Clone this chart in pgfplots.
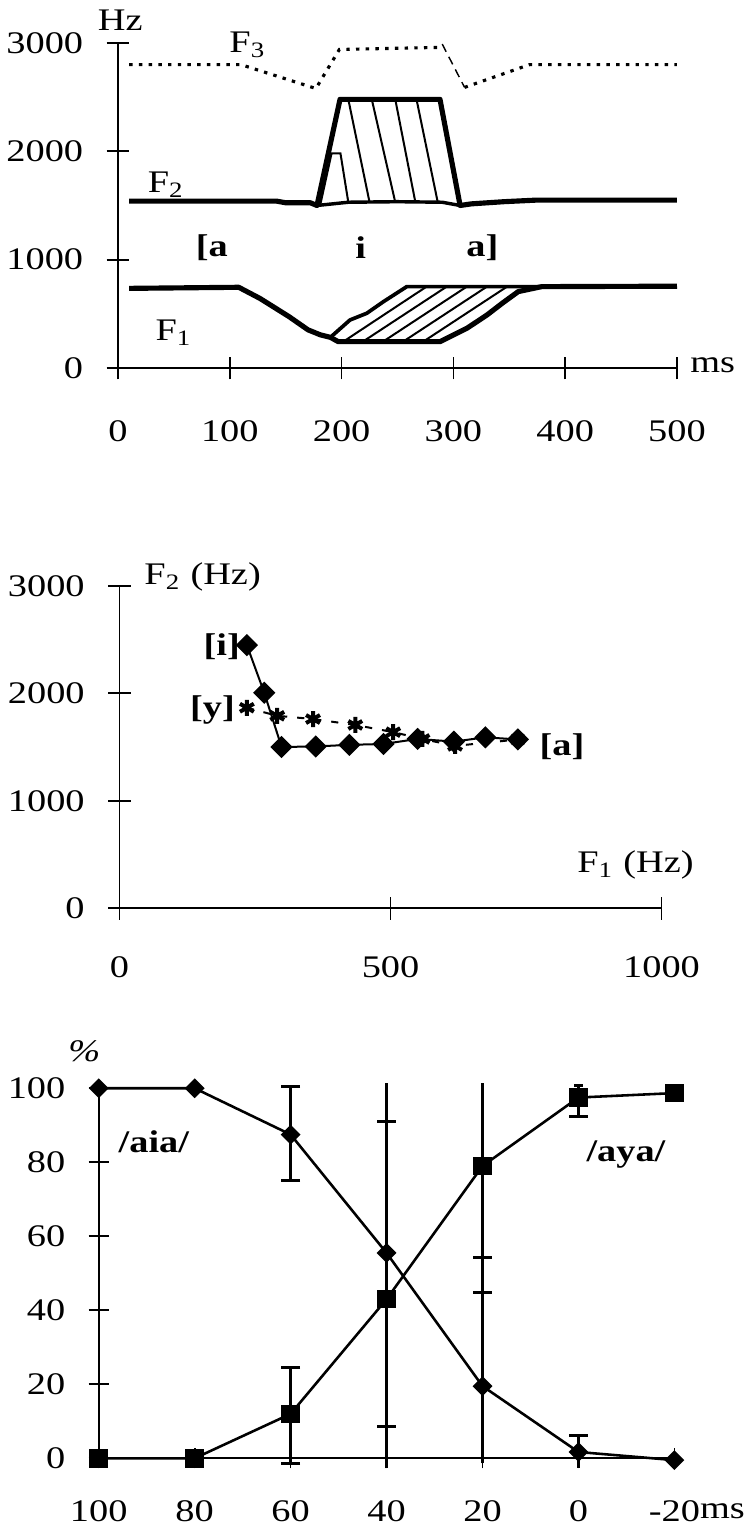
\documentclass[border=0pt]{standalone}
\usepackage{fontspec}
\setmainfont{Liberation Serif}
\usepackage{graphicx}
\usepackage{pgfplots}
\pgfplotsset{compat=1.18}

% the scan is stretched sideways, so the text is too
\newcommand{\sx}[1]{\scalebox{1.22}[1]{#1}}

\pgfplotsset{
  panel/.style={
    scale only axis,
    axis lines=left,
    axis line style={-, line width=0.6pt},
    tick align=center,
    major tick length=8pt,
    tick style={line width=0.6pt, black},
    tick label style={inner sep=0pt},
    xticklabel style={anchor=center},
    yticklabel style={anchor=east, xshift=-8pt},
    clip=false,
    scaled ticks=false,
  },
}

\begin{document}
\fontsize{11}{13}\selectfont
\begin{tikzpicture}
\useasboundingbox (0,0) rectangle (262.15pt,538.65pt);

% ---------------- formant tracks
\begin{axis}[panel,
    at={(41.3pt,409.85pt)}, anchor=south west,
    width=195.65pt, height=113.75pt,
    xmin=0, xmax=500, ymin=0, ymax=3000,
    xtick={0,100,200,300,400,500},
    xticklabels={\sx{0},\sx{100},\sx{200},\sx{300},\sx{400},\sx{500}},
    ytick={0,1000,2000,3000},
    yticklabels={\sx{0},\sx{1000},\sx{2000},\sx{3000}},
    xticklabel style={yshift=-18pt},
]
% F3
\addplot[black, line width=1.1pt, dash pattern=on 1.2pt off 2.2pt]
  coordinates {(10,2800) (110,2800) (177,2580) (198,2940) (290,2960)};
\addplot[black, line width=0.5pt, dash pattern=on 3pt off 2pt]
  coordinates {(290,2990) (310,2590)};
\addplot[black, line width=1.1pt, dash pattern=on 1.2pt off 2.2pt]
  coordinates {(310,2590) (368,2800) (500,2800)};

% F2
\addplot[black, line width=1.8pt, line join=round] coordinates {
  (10,1540) (142,1540) (150,1525) (172,1525) (178,1500) (198.6,2480)
  (288,2480) (306,1500) (316,1515) (345,1535) (375,1550) (500,1550)};
\addplot[black, line width=1.2pt] coordinates {
  (178,1500) (192,1515) (206,1530) (250,1535) (290,1530) (306,1500)};
\addplot[black, line width=0.7pt] coordinates {(181,1510) (191,1980) (199,1980) (206,1530)};
\addplot[black, line width=0.7pt] coordinates {(206,2480) (225,1530)};
\addplot[black, line width=0.7pt] coordinates {(227,2480) (248,1530)};
\addplot[black, line width=0.7pt] coordinates {(248,2480) (266,1530)};
\addplot[black, line width=0.7pt] coordinates {(267,2480) (286,1530)};

% F1
\addplot[black, line width=1.8pt, line join=round] coordinates {
  (10,735) (108,745) (127,642) (153,474) (170,352) (181,306) (190,283)
  (197,243) (288,243) (312,366) (330,489) (344,600) (358,705) (379,751) (500,755)};
\addplot[black, line width=1.3pt] coordinates {
  (190,283) (207.5,443) (222.5,505) (237.4,612) (258.3,751) (379,751)};
\addplot[black, line width=0.7pt] coordinates {(201.5,243) (276,751)};
\addplot[black, line width=0.7pt] coordinates {(219,243) (294,751)};
\addplot[black, line width=0.7pt] coordinates {(237,243) (312,751)};
\addplot[black, line width=0.7pt] coordinates {(255,243) (330,751)};
\addplot[black, line width=0.7pt] coordinates {(273,243) (348,751)};

\node at (axis cs:2,3213) {\sx{Hz}};
\node at (axis cs:116,2982) {\sx{F\textsubscript{3}}};
\node at (axis cs:43,1690) {\sx{F\textsubscript{2}}};
\node at (axis cs:50,323) {\sx{F\textsubscript{1}}};
\node[font=\bfseries] at (axis cs:84,1108) {\sx{[a}};
\node[font=\bfseries] at (axis cs:217,1108) {\sx{i}};
\node[font=\bfseries] at (axis cs:326,1108) {\sx{a]}};
\node at (axis cs:532,28) {\sx{ms}};
\end{axis}

% ---------------- F1/F2 plane
\begin{axis}[panel,
    at={(41.83pt,220.75pt)}, anchor=south west,
    width=189.7pt, height=112.9pt,
    xmin=0, xmax=1000, ymin=0, ymax=3000,
    xtick={0,500,1000},
    xticklabels={\sx{0},\sx{500},\sx{1000}},
    ytick={0,1000,2000,3000},
    yticklabels={\sx{0},\sx{1000},\sx{2000},\sx{3000}},
    xticklabel style={yshift=-16.6pt},
]
% /aia/
\addplot[black, line width=0.7pt, mark=square*, mark size=2.4pt,
    mark options={rotate=45, solid}] coordinates {
  (235,2447) (267,2005) (299,1500) (362,1505) (424,1520) (487,1528)
  (550,1575) (617,1550) (675,1590) (735,1570)};
% /aya/
\addplot[black, line width=0.7pt, dash pattern=on 2.5pt off 3.5pt,
    mark=asterisk, mark size=2.8pt, mark options={solid, line width=1.4pt}] coordinates {
  (235,1865) (291,1790) (357,1760) (435,1705) (505,1638) (559,1575)
  (619,1510) (735,1570)};

\node[anchor=west, inner sep=0pt] at (axis cs:45,3082) {\sx{F\textsubscript{2} (Hz)}};
\node at (axis cs:952,400) {\sx{F\textsubscript{1} (Hz)}};
\node[anchor=east, inner sep=0pt, font=\bfseries] at (axis cs:223,2430) {\sx{[i]}};
\node[anchor=east, inner sep=0pt, font=\bfseries] at (axis cs:214,1842) {\sx{[y]}};
\node[anchor=west, inner sep=0pt, font=\bfseries] at (axis cs:774,1500) {\sx{[a]}};
\end{axis}

% ---------------- identification curves
\begin{axis}[panel,
    at={(34.55pt,28.25pt)}, anchor=south west,
    width=201.5pt, height=129.5pt,
    xmin=0, xmax=6, ymin=0, ymax=100,
    major tick length=7pt,
    xtick={0,1,2,3,4,5,6},
    xticklabels={\sx{100},\sx{80},\sx{60},\sx{40},\sx{20},\sx{0},\sx{-20}},
    ytick={0,20,40,60,80,100},
    yticklabels={\sx{0},\sx{20},\sx{40},\sx{60},\sx{80},\sx{100}},
    xticklabel style={yshift=-15pt},
    unbounded coords=jump,
]
% error bars: stems and caps
\addplot[black, line width=1pt, forget plot] coordinates {
  (2,75) (2,100.5) (2,nan)
  (2,-1.5) (2,24.5) (2,nan)
  (3,-2.7) (3,101.3) (3,nan)
  (4,-1.4) (4,101.3) (4,nan)
  (5,92.4) (5,100.8) (5,nan)
  (5,-2.5) (5,6.2)};
\addplot[only marks, mark=-, mark size=3.3pt, forget plot,
    mark options={black, line width=1pt}] coordinates {
  (2,100.5) (2,75) (2,24.5) (2,-1.5) (3,91) (3,8.5)
  (4,54.3) (4,44.7) (5,92.4) (5,6.2)};
\addplot[only marks, mark=-, mark size=1.5pt, forget plot,
    mark options={black, line width=1pt}] coordinates {(5,100.8)};

% /aia/
\addplot[black, line width=0.9pt, mark=square*, mark size=2pt,
    mark options={rotate=45}] coordinates {
  (0,100) (1,100) (2,87.5) (3,55.5) (4,19.5) (5,1.7) (6,-0.5)};
% /aya/
\addplot[black, line width=0.9pt, mark=square*, mark size=2.8pt] coordinates {
  (0,0) (1,0) (2,12) (3,43) (4,79) (5,97.5) (6,98.7)};

\node at (axis cs:-0.15,110) {\sx{\textit{\%}}};
\node[font=\bfseries] at (axis cs:0.575,85.6) {\sx{/aia/}};
\node[font=\bfseries] at (axis cs:5.495,82) {\sx{/aya/}};
\node at (axis cs:6.5,-14.4) {\sx{ms}};
\end{axis}
\end{tikzpicture}
\end{document}
